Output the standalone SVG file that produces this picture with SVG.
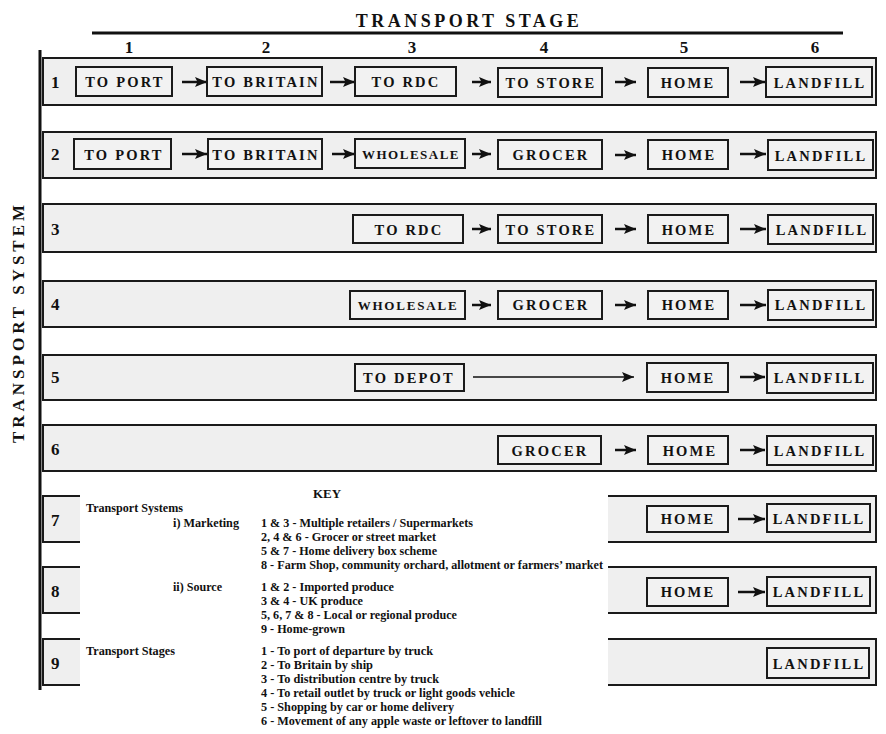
<svg xmlns="http://www.w3.org/2000/svg" width="886" height="734" viewBox="0 0 886 734">
<style>
.band{fill:#efefef;stroke:#1a1a1a;stroke-width:2}
.box{fill:#f2f2f2;stroke:#1a1a1a;stroke-width:2}
.bt{font-family:"Liberation Serif",serif;font-weight:bold;font-size:14.5px;letter-spacing:2.2px;text-anchor:middle;fill:#111}
.rn{font-family:"Liberation Serif",serif;font-weight:bold;font-size:17px;fill:#111}
.cn{font-family:"Liberation Serif",serif;font-weight:bold;font-size:17px;text-anchor:middle;fill:#111}
.ttl{font-family:"Liberation Serif",serif;font-weight:bold;font-size:18px;letter-spacing:3.5px;text-anchor:middle;fill:#111}
.k{font-family:"Liberation Serif",serif;font-weight:bold;font-size:12.5px;fill:#111}
.arr{stroke:#111;stroke-width:2.5;fill:none;marker-end:url(#ah)}
.arrt{stroke:#111;stroke-width:1.6;fill:none;marker-end:url(#ah)}
</style>
<defs>
<marker id="ah" markerUnits="userSpaceOnUse" markerWidth="12" markerHeight="10" refX="12" refY="5" orient="auto">
<path d="M0,0 L12,5 L0,10 L2.5,5 z" fill="#111"/>
</marker>
</defs>
<rect width="886" height="734" fill="#fff"/>

<g id="header">
<text class="ttl" x="469" y="27">TRANSPORT STAGE</text>
<line x1="92" y1="33" x2="843" y2="33" stroke="#111" stroke-width="3"/>
<text class="cn" x="129" y="53">1</text>
<text class="cn" x="266" y="53">2</text>
<text class="cn" x="412" y="53">3</text>
<text class="cn" x="544" y="53">4</text>
<text class="cn" x="684" y="53">5</text>
<text class="cn" x="815" y="53">6</text>
</g>

<g id="axis">
<line x1="40" y1="50" x2="40" y2="690" stroke="#111" stroke-width="3"/>
<text class="ttl" transform="translate(24,322) rotate(-90)" style="font-size:17px;letter-spacing:4px">TRANSPORT SYSTEM</text>
</g>

<g id="bands">
<rect class="band" x="43" y="58" width="833" height="47"/>
<rect class="band" x="43" y="132" width="833" height="46"/>
<rect class="band" x="43" y="204" width="833" height="48"/>
<rect class="band" x="43" y="281" width="833" height="46"/>
<rect class="band" x="43" y="355" width="833" height="45"/>
<rect class="band" x="43" y="425" width="833" height="46"/>
<rect class="band" x="43" y="496" width="833" height="46"/>
<rect class="band" x="43" y="567" width="833" height="46"/>
<rect class="band" x="43" y="639" width="833" height="46"/>
<text class="rn" x="51" y="88">1</text>
<text class="rn" x="51" y="160">2</text>
<text class="rn" x="51" y="235">3</text>
<text class="rn" x="51" y="310">4</text>
<text class="rn" x="51" y="383">5</text>
<text class="rn" x="51" y="455">6</text>
<text class="rn" x="51" y="526">7</text>
<text class="rn" x="51" y="597">8</text>
<text class="rn" x="51" y="669">9</text>
</g>

<g id="key">
<rect x="80" y="480" width="528" height="254" fill="#fff"/>
<text class="k" x="327" y="498" text-anchor="middle" style="font-size:13px">KEY</text>
<text class="k" x="86" y="512" textLength="97" lengthAdjust="spacingAndGlyphs">Transport Systems</text>
<text class="k" x="173" y="527" textLength="66" lengthAdjust="spacingAndGlyphs">i) Marketing</text>
<text class="k" x="261" y="527" textLength="212" lengthAdjust="spacingAndGlyphs">1 &amp; 3 - Multiple retailers / Supermarkets</text>
<text class="k" x="261" y="541" textLength="175" lengthAdjust="spacingAndGlyphs">2, 4 &amp; 6 - Grocer or street market</text>
<text class="k" x="261" y="555" textLength="176" lengthAdjust="spacingAndGlyphs">5 &amp; 7 - Home delivery box scheme</text>
<text class="k" x="261" y="569" textLength="342" lengthAdjust="spacingAndGlyphs">8 - Farm Shop, community orchard, allotment or farmers’ market</text>
<text class="k" x="173" y="591" textLength="49" lengthAdjust="spacingAndGlyphs">ii) Source</text>
<text class="k" x="261" y="591" textLength="133" lengthAdjust="spacingAndGlyphs">1 &amp; 2 - Imported produce</text>
<text class="k" x="261" y="605" textLength="102" lengthAdjust="spacingAndGlyphs">3 &amp; 4 - UK produce</text>
<text class="k" x="261" y="619" textLength="196" lengthAdjust="spacingAndGlyphs">5, 6, 7 &amp; 8 - Local or regional produce</text>
<text class="k" x="261" y="633" textLength="84" lengthAdjust="spacingAndGlyphs">9 - Home-grown</text>
<text class="k" x="86" y="655" textLength="89" lengthAdjust="spacingAndGlyphs">Transport Stages</text>
<text class="k" x="261" y="655" textLength="172" lengthAdjust="spacingAndGlyphs">1 - To port of departure by truck</text>
<text class="k" x="261" y="669" textLength="112" lengthAdjust="spacingAndGlyphs">2 - To Britain by ship</text>
<text class="k" x="261" y="683" textLength="178" lengthAdjust="spacingAndGlyphs">3 - To distribution centre by truck</text>
<text class="k" x="261" y="697" textLength="254" lengthAdjust="spacingAndGlyphs">4 - To retail outlet by truck or light goods vehicle</text>
<text class="k" x="261" y="711" textLength="193" lengthAdjust="spacingAndGlyphs">5 - Shopping by car or home delivery</text>
<text class="k" x="261" y="725" textLength="281" lengthAdjust="spacingAndGlyphs">6 - Movement of any apple waste or leftover to landfill</text>
</g>

<g id="connectors">
<line class="arr" x1="182" y1="82" x2="207" y2="82"/>
<line class="arr" x1="330" y1="82" x2="355" y2="82"/>
<line class="arr" x1="472" y1="82" x2="491" y2="82"/>
<line class="arr" x1="615" y1="82" x2="636" y2="82"/>
<line class="arr" x1="740" y1="82" x2="765" y2="82"/>
<line class="arr" x1="182" y1="154" x2="207" y2="154"/>
<line class="arr" x1="332" y1="154" x2="355" y2="154"/>
<line class="arr" x1="472" y1="154" x2="491" y2="154"/>
<line class="arr" x1="615" y1="155" x2="636" y2="155"/>
<line class="arr" x1="740" y1="154" x2="766" y2="154"/>
<line class="arr" x1="472" y1="229" x2="491" y2="229"/>
<line class="arr" x1="615" y1="229" x2="636" y2="229"/>
<line class="arr" x1="740" y1="229" x2="766" y2="229"/>
<line class="arr" x1="472" y1="305" x2="491" y2="305"/>
<line class="arr" x1="615" y1="305" x2="636" y2="305"/>
<line class="arr" x1="740" y1="305" x2="766" y2="305"/>
<line class="arrt" x1="473" y1="377" x2="634" y2="377"/>
<line class="arr" x1="740" y1="377" x2="765" y2="377"/>
<line class="arr" x1="615" y1="450" x2="636" y2="450"/>
<line class="arr" x1="740" y1="450" x2="765" y2="450"/>
<line class="arr" x1="738" y1="519" x2="765" y2="519"/>
<line class="arr" x1="738" y1="592" x2="765" y2="592"/>
</g>

<g id="r1-port"><rect class="box" x="76" y="67" width="96" height="29"/><text class="bt" x="125" y="87">TO PORT</text></g>
<g id="r1-britain"><rect class="box" x="207" y="67" width="115" height="29"/><text class="bt" x="266" y="87">TO BRITAIN</text></g>
<g id="r1-rdc"><rect class="box" x="355" y="67" width="101" height="29"/><text class="bt" x="406" y="87">TO RDC</text></g>
<g id="r1-store"><rect class="box" x="498" y="68" width="104" height="29"/><text class="bt" x="551" y="88">TO STORE</text></g>
<g id="r1-home"><rect class="box" x="648" y="68" width="80" height="29"/><text class="bt" x="688" y="88">HOME</text></g>
<g id="r1-landfill"><rect class="box" x="766" y="67" width="106" height="30"/><text class="bt" x="820" y="88">LANDFILL</text></g>

<g id="r2-port"><rect class="box" x="74" y="139" width="97" height="30"/><text class="bt" x="124" y="160">TO PORT</text></g>
<g id="r2-britain"><rect class="box" x="208" y="139" width="114" height="30"/><text class="bt" x="266" y="160">TO BRITAIN</text></g>
<g id="r2-wholesale"><rect class="box" x="355" y="139" width="110" height="29"/><text class="bt" x="411" y="159" style="font-size:13px;letter-spacing:1.5px">WHOLESALE</text></g>
<g id="r2-grocer"><rect class="box" x="498" y="140" width="104" height="29"/><text class="bt" x="551" y="160">GROCER</text></g>
<g id="r2-home"><rect class="box" x="648" y="140" width="80" height="29"/><text class="bt" x="689" y="160">HOME</text></g>
<g id="r2-landfill"><rect class="box" x="768" y="140" width="105" height="30"/><text class="bt" x="821" y="161">LANDFILL</text></g>

<g id="r3-rdc"><rect class="box" x="353" y="215" width="110" height="28"/><text class="bt" x="409" y="235">TO RDC</text></g>
<g id="r3-store"><rect class="box" x="498" y="215" width="104" height="28"/><text class="bt" x="551" y="235">TO STORE</text></g>
<g id="r3-home"><rect class="box" x="648" y="215" width="80" height="28"/><text class="bt" x="689" y="235">HOME</text></g>
<g id="r3-landfill"><rect class="box" x="768" y="215" width="105" height="29"/><text class="bt" x="822" y="235">LANDFILL</text></g>

<g id="r4-wholesale"><rect class="box" x="350" y="291" width="115" height="28"/><text class="bt" x="408" y="310" style="font-size:13px;letter-spacing:1.8px">WHOLESALE</text></g>
<g id="r4-grocer"><rect class="box" x="498" y="291" width="104" height="28"/><text class="bt" x="551" y="310">GROCER</text></g>
<g id="r4-home"><rect class="box" x="648" y="291" width="80" height="28"/><text class="bt" x="689" y="310">HOME</text></g>
<g id="r4-landfill"><rect class="box" x="768" y="290" width="105" height="30"/><text class="bt" x="821" y="310">LANDFILL</text></g>

<g id="r5-depot"><rect class="box" x="355" y="364" width="109" height="27"/><text class="bt" x="409" y="383">TO DEPOT</text></g>
<g id="r5-home"><rect class="box" x="647" y="363" width="81" height="29"/><text class="bt" x="688" y="383">HOME</text></g>
<g id="r5-landfill"><rect class="box" x="767" y="363" width="106" height="30"/><text class="bt" x="820" y="383">LANDFILL</text></g>

<g id="r6-grocer"><rect class="box" x="498" y="436" width="103" height="28"/><text class="bt" x="550" y="456">GROCER</text></g>
<g id="r6-home"><rect class="box" x="648" y="436" width="80" height="28"/><text class="bt" x="690" y="456">HOME</text></g>
<g id="r6-landfill"><rect class="box" x="767" y="436" width="106" height="29"/><text class="bt" x="820" y="456">LANDFILL</text></g>

<g id="r7-home"><rect class="box" x="647" y="506" width="81" height="26"/><text class="bt" x="688" y="524">HOME</text></g>
<g id="r7-landfill"><rect class="box" x="767" y="504" width="103" height="28"/><text class="bt" x="819" y="524">LANDFILL</text></g>

<g id="r8-home"><rect class="box" x="647" y="578" width="81" height="28"/><text class="bt" x="688" y="597">HOME</text></g>
<g id="r8-landfill"><rect class="box" x="767" y="577" width="103" height="29"/><text class="bt" x="819" y="597">LANDFILL</text></g>

<g id="r9-landfill"><rect class="box" x="767" y="648" width="102" height="30"/><text class="bt" x="819" y="669">LANDFILL</text></g>
</svg>
